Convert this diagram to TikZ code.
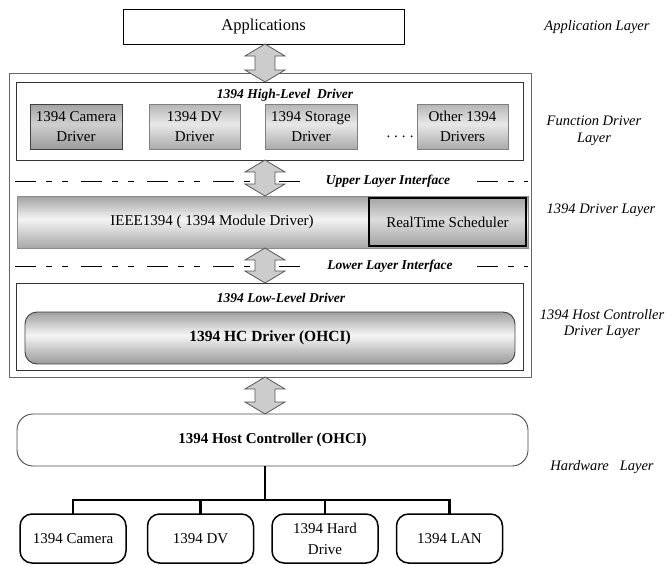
\documentclass[tikz,border=0pt]{standalone}
\usepackage{fontspec}
\setmainfont{Liberation Serif}
\usetikzlibrary{calc,backgrounds}

\definecolor{drvT}{HTML}{B4B4B4}
\definecolor{drvM}{HTML}{E8E8E8}
\definecolor{drvB}{HTML}{ACACAC}
\definecolor{camT}{HTML}{A2A2A2}
\definecolor{camM}{HTML}{CFCFCF}
\definecolor{camB}{HTML}{9C9C9C}
\definecolor{barT}{HTML}{A0A0A0}
\definecolor{barM}{HTML}{F4F4F4}
\definecolor{barB}{HTML}{A8A8A8}
\definecolor{rtT}{HTML}{A4A4A4}
\definecolor{rtM}{HTML}{DCDCDC}
\definecolor{rtB}{HTML}{A4A4A4}
\definecolor{hcT}{HTML}{9E9E9E}
\definecolor{hcM}{HTML}{F5F5F5}
\definecolor{hcB}{HTML}{9A9A9A}

% vertical double-headed block arrow between two points on a common axis
\newcommand\biarrow[2]{%
  \filldraw[dblarrow] let \p1=(#1), \p2=(#2) in
    (\x1,\y1) -- (\x1+20pt,\y1-12pt) -- (\x1+10pt,\y1-12pt) -- (\x1+10pt,\y2+12pt)
    -- (\x1+20pt,\y2+12pt) -- (\x1,\y2) -- (\x1-20pt,\y2+12pt) -- (\x1-10pt,\y2+12pt)
    -- (\x1-10pt,\y1-12pt) -- (\x1-20pt,\y1-12pt) -- cycle;}

% three-stop vertical gradient behind a node: node, top, middle, bottom, corner radius
\newcommand\vgrad[5]{%
  \begin{scope}[on background layer]
    \begin{scope}
      \clip[rounded corners=#5] (#1.north west) rectangle (#1.south east);
      \foreach \i in {0,...,59}{%
        \pgfmathsetmacro\ta{\i/60}%
        \pgfmathsetmacro\tb{(\i+1.4)/60}%
        \pgfmathsetmacro\tm{(\i+0.5)/60}%
        \ifdim \tm pt<0.45pt
          \pgfmathsetmacro\pc{int(100*\tm/0.45)}%
          \colorlet{gradc}{#3!\pc!#2}%
        \else
          \pgfmathsetmacro\pc{int(100*(\tm-0.45)/0.55)}%
          \colorlet{gradc}{#4!\pc!#3}%
        \fi
        \fill[gradc] ($(#1.north west)!\ta!(#1.south west)$) rectangle
                     ($(#1.north east)!\tb!(#1.south east)$);
      }
    \end{scope}
  \end{scope}}

\begin{document}
\begin{tikzpicture}[x=1pt,y=-1pt,
  every node/.style={inner sep=0pt, outer sep=0pt},
  txt/.style={font=\fontsize{15}{20}\selectfont, align=center},
  boldtxt/.style={font=\fontsize{15.5}{19}\selectfont\bfseries, align=center},
  bititle/.style={font=\fontsize{13.5}{16}\selectfont\bfseries\itshape, align=center},
  side/.style={font=\fontsize{14.5}{16.5}\selectfont\itshape, align=center},
  plainbox/.style={draw=black, line width=0.8pt, fill=white},
  frame/.style={draw=black!60, line width=0.9pt},
  panel/.style={draw=black!80, line width=0.9pt},
  drvbox/.style={draw=black!50, line width=0.8pt, minimum width=91, minimum height=45, txt},
  seldrv/.style={draw=black!75, line width=1pt, minimum width=92, minimum height=45, txt},
  barbox/.style={draw=black!45, line width=0.6pt},
  rtbox/.style={draw=black, line width=2.6pt},
  hcbox/.style={draw=black!75, line width=0.9pt, rounded corners=12pt},
  hostbox/.style={draw=black!70, line width=0.9pt, rounded corners=16pt, fill=white},
  devbox/.style={draw=black, line width=1.5pt, rounded corners=12pt, fill=white,
    minimum width=106, minimum height=49, txt},
  dblarrow/.style={draw=black!65, line width=0.8pt, fill=black!20},
  ifline/.style={draw=black, line width=1pt,
    dash pattern=on 21pt off 10pt on 6pt off 10pt on 6pt off 13pt},
  tree/.style={draw=black, line width=2.6pt},
]
\useasboundingbox (0,0) rectangle (665,565);

% ---------------- application layer ----------------
\node[plainbox, minimum width=281, minimum height=35, txt, font=\fontsize{16.5}{20}\selectfont] (apps) at (263.5,26.5) {Applications};

% ---------------- driver stack frame ----------------
\node[frame, minimum width=522, minimum height=304] (outer) at (270,225) {};

% function drivers
\node[panel, minimum width=507, minimum height=78] (hi) at (269.5,121) {};
\node[bititle] (hititle) at (285,95) {1394 High-Level~ Driver};
\node[seldrv] (camdrv) at (76,126.5) {1394 Camera\\Driver};
\node[drvbox] (dvdrv) at (194.5,126.5) {1394 DV\\Driver};
\node[drvbox, minimum width=92] (stdrv) at (311,126.5) {1394 Storage\\Driver};
\node[txt] (dots) at (400,137) {.\hspace{4pt}.\hspace{4pt}.\hspace{4pt}.};
\node[drvbox] (othdrv) at (462.5,126.5) {Other 1394\\Drivers};
\vgrad{camdrv}{camT}{camM}{camB}{0pt}
\vgrad{dvdrv}{drvT}{drvM}{drvB}{0pt}
\vgrad{stdrv}{drvT}{drvM}{drvB}{0pt}
\vgrad{othdrv}{drvT}{drvM}{drvB}{0pt}

% upper interface
\coordinate (ax) at (265,0);
\coordinate (upl) at (15,181);
\coordinate (upr) at (528,181);
\path[ifline] (upl) -- (upr);
\node[bititle, fill=white, inner xsep=22pt, inner ysep=3pt] (upif) at (388,181) {Upper Layer Interface};

% 1394 module driver bar
\node[barbox, minimum width=511, minimum height=52] (bar) at (272.5,222) {};
\vgrad{bar}{barT}{barM}{barB}{0pt}
\node[txt] (ieee) at (212,222) {IEEE1394 ( 1394 Module Driver)};
\node[rtbox, minimum width=157, minimum height=48, txt] (rt) at (447.5,222) {RealTime Scheduler};
\vgrad{rt}{rtT}{rtM}{rtB}{0pt}

% lower interface
\coordinate (lol) at (15,266);
\coordinate (lor) at (528,266);
\path[ifline] (lol) -- (lor);
\node[bititle, fill=white, inner xsep=22pt, inner ysep=3pt] (loif) at (390,266) {Lower Layer Interface};

% host controller driver
\node[panel, minimum width=507, minimum height=87] (lo) at (269.5,326.5) {};
\node[bititle] (lotitle) at (281,298) {1394 Low-Level Driver};
\node[hcbox, minimum width=490, minimum height=52, boldtxt] (hcd) at (270,338) {1394 HC Driver (OHCI)};
\vgrad{hcd}{hcT}{hcM}{hcB}{12pt}

% ---------------- hardware ----------------
\node[hostbox, minimum width=511, minimum height=52, boldtxt, font=\fontsize{15}{19}\selectfont\bfseries] (host) at (272.5,440) {1394 Host Controller (OHCI)};

\node[devbox] (cam) at (73,538.5) {1394 Camera};
\node[devbox] (dv) at (200.5,538.5) {1394 DV};
\node[devbox] (hd) at (325,538.5) {1394 Hard\\[1pt]Drive};
\node[devbox] (lan) at (449.5,538.5) {1394 LAN};

\coordinate (bus) at (265,500);
\draw[tree] (host.south -| bus) -- (bus);
\draw[tree] (cam.north) -- (cam.north |- bus) -- (lan.north |- bus) -- (lan.north);
\draw[tree] (dv.north) -- (dv.north |- bus);
\draw[tree] (hd.north) -- (hd.north |- bus);

% ---------------- block arrows between layers ----------------
\biarrow{apps.south -| ax}{hi.north -| ax}
\biarrow{hi.south -| ax}{bar.north -| ax}
\biarrow{bar.south -| ax}{lo.north -| ax}
\biarrow{outer.south -| ax}{host.north -| ax}

% ---------------- layer names ----------------
\node[side] (l1) at (597,27) {Application Layer};
\node[side] (l2) at (594,131) {Function Driver\\Layer};
\node[side] (l3) at (601,210) {1394 Driver Layer};
\node[side] (l4) at (602,324) {1394 Host Controller\\Driver Layer};
\node[side] (l5) at (602,467) {Hardware~~ Layer};
\end{tikzpicture}
\end{document}
